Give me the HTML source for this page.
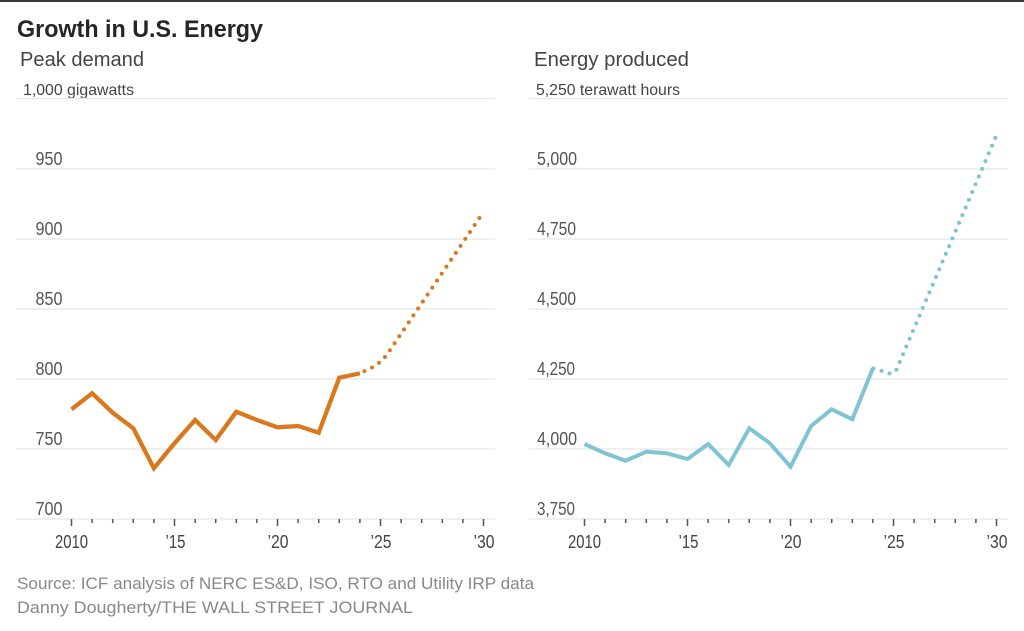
<!DOCTYPE html>
<html>
<head>
<meta charset="utf-8">
<style>
  html, body { margin:0; padding:0; background:#fff; }
  body { width:1024px; height:631px; overflow:hidden; }
  svg { display:block; }
  text { font-family: "Liberation Sans", sans-serif; }
</style>
</head>
<body>
<svg width="1024" height="631" viewBox="0 0 1024 631" xmlns="http://www.w3.org/2000/svg">
  <rect x="0" y="0" width="1024" height="631" fill="#fff"/>
  <rect x="0" y="0" width="1024" height="2" fill="#3a3a3a"/>

  <!-- Title -->
  <text x="17" y="37" font-size="24" font-weight="bold" fill="#262626" textLength="246" lengthAdjust="spacingAndGlyphs">Growth in U.S. Energy</text>

  <!-- ===== LEFT CHART ===== -->
  <text x="20" y="66" font-size="20" fill="#444" textLength="124" lengthAdjust="spacingAndGlyphs">Peak demand</text>
  <text x="23" y="95" font-size="16" fill="#444" textLength="111" lengthAdjust="spacingAndGlyphs">1,000 gigawatts</text>

  <g stroke="#e6e6e6" stroke-width="1.2">
    <line x1="16" y1="98.5" x2="495" y2="98.5"/>
    <line x1="16" y1="169" x2="495" y2="169"/>
    <line x1="16" y1="239" x2="495" y2="239"/>
    <line x1="16" y1="309" x2="495" y2="309"/>
    <line x1="16" y1="379" x2="495" y2="379"/>
    <line x1="16" y1="449" x2="495" y2="449"/>
    <line x1="16" y1="519" x2="495" y2="519"/>
  </g>
  <g font-size="18" fill="#555">
    <text x="35.5" y="165" textLength="27" lengthAdjust="spacingAndGlyphs">950</text>
    <text x="35.5" y="235" textLength="27" lengthAdjust="spacingAndGlyphs">900</text>
    <text x="35.5" y="305" textLength="27" lengthAdjust="spacingAndGlyphs">850</text>
    <text x="35.5" y="375" textLength="27" lengthAdjust="spacingAndGlyphs">800</text>
    <text x="35.5" y="445" textLength="27" lengthAdjust="spacingAndGlyphs">750</text>
    <text x="35.5" y="515" textLength="27" lengthAdjust="spacingAndGlyphs">700</text>
  </g>
  <!-- ticks left -->
  <g stroke="#555" stroke-width="1.5">
    <line x1="71.5" y1="519" x2="71.5" y2="526"/>
    <line x1="92.1" y1="519" x2="92.1" y2="523"/>
    <line x1="112.7" y1="519" x2="112.7" y2="523"/>
    <line x1="133.3" y1="519" x2="133.3" y2="523"/>
    <line x1="153.9" y1="519" x2="153.9" y2="523"/>
    <line x1="174.5" y1="519" x2="174.5" y2="526"/>
    <line x1="195.1" y1="519" x2="195.1" y2="523"/>
    <line x1="215.7" y1="519" x2="215.7" y2="523"/>
    <line x1="236.3" y1="519" x2="236.3" y2="523"/>
    <line x1="256.9" y1="519" x2="256.9" y2="523"/>
    <line x1="277.5" y1="519" x2="277.5" y2="526"/>
    <line x1="298.1" y1="519" x2="298.1" y2="523"/>
    <line x1="318.7" y1="519" x2="318.7" y2="523"/>
    <line x1="339.3" y1="519" x2="339.3" y2="523"/>
    <line x1="359.9" y1="519" x2="359.9" y2="523"/>
    <line x1="380.5" y1="519" x2="380.5" y2="526"/>
    <line x1="401.1" y1="519" x2="401.1" y2="523"/>
    <line x1="421.7" y1="519" x2="421.7" y2="523"/>
    <line x1="442.3" y1="519" x2="442.3" y2="523"/>
    <line x1="462.9" y1="519" x2="462.9" y2="523"/>
    <line x1="483.5" y1="519" x2="483.5" y2="526"/>
  </g>
  <g font-size="18" fill="#444" text-anchor="middle">
    <text x="71.5" y="548" textLength="33" lengthAdjust="spacingAndGlyphs">2010</text>
    <text x="175.5" y="548" textLength="20" lengthAdjust="spacingAndGlyphs">’15</text>
    <text x="278" y="548" textLength="21" lengthAdjust="spacingAndGlyphs">’20</text>
    <text x="381" y="548" textLength="21" lengthAdjust="spacingAndGlyphs">’25</text>
    <text x="484" y="548" textLength="21" lengthAdjust="spacingAndGlyphs">’30</text>
  </g>
  <!-- orange series -->
  <polyline fill="none" stroke="#d9781c" stroke-width="4.3" stroke-linejoin="miter" stroke-linecap="butt"
    points="71.5,409.3 92.1,393.3 112.7,412.7 133.3,428.3 153.9,468.3 174.5,443.3 195.1,420 215.7,440 236.3,411.7 256.9,420 277.5,427.3 298.1,426 318.7,432.7 339.3,377.7 359.9,373.3"/>
  <path fill="none" stroke="#d9781c" stroke-width="4" stroke-linecap="round" stroke-dasharray="0 8.4" stroke-dashoffset="-5"
    d="M359.9,373.3 L372,367.5 Q381,363 388,353 L483.5,212"/>

  <!-- ===== RIGHT CHART ===== -->
  <text x="534" y="66" font-size="20" fill="#444" textLength="155" lengthAdjust="spacingAndGlyphs">Energy produced</text>
  <text x="536" y="95" font-size="16" fill="#444" textLength="144" lengthAdjust="spacingAndGlyphs">5,250 terawatt hours</text>

  <g stroke="#e6e6e6" stroke-width="1.2">
    <line x1="529" y1="98.5" x2="1008" y2="98.5"/>
    <line x1="529" y1="169" x2="1008" y2="169"/>
    <line x1="529" y1="239" x2="1008" y2="239"/>
    <line x1="529" y1="309" x2="1008" y2="309"/>
    <line x1="529" y1="379" x2="1008" y2="379"/>
    <line x1="529" y1="449" x2="1008" y2="449"/>
    <line x1="529" y1="519" x2="1008" y2="519"/>
  </g>
  <g font-size="18" fill="#555">
    <text x="537" y="165" textLength="40" lengthAdjust="spacingAndGlyphs">5,000</text>
    <text x="537" y="235" textLength="39" lengthAdjust="spacingAndGlyphs">4,750</text>
    <text x="537" y="305" textLength="39" lengthAdjust="spacingAndGlyphs">4,500</text>
    <text x="537" y="375" textLength="38" lengthAdjust="spacingAndGlyphs">4,250</text>
    <text x="537" y="445" textLength="40" lengthAdjust="spacingAndGlyphs">4,000</text>
    <text x="537" y="515" textLength="38" lengthAdjust="spacingAndGlyphs">3,750</text>
  </g>
  <g stroke="#555" stroke-width="1.5">
    <line x1="584.5" y1="519" x2="584.5" y2="526"/>
    <line x1="605.1" y1="519" x2="605.1" y2="523"/>
    <line x1="625.7" y1="519" x2="625.7" y2="523"/>
    <line x1="646.3" y1="519" x2="646.3" y2="523"/>
    <line x1="666.9" y1="519" x2="666.9" y2="523"/>
    <line x1="687.5" y1="519" x2="687.5" y2="526"/>
    <line x1="708.1" y1="519" x2="708.1" y2="523"/>
    <line x1="728.7" y1="519" x2="728.7" y2="523"/>
    <line x1="749.3" y1="519" x2="749.3" y2="523"/>
    <line x1="769.9" y1="519" x2="769.9" y2="523"/>
    <line x1="790.5" y1="519" x2="790.5" y2="526"/>
    <line x1="811.1" y1="519" x2="811.1" y2="523"/>
    <line x1="831.7" y1="519" x2="831.7" y2="523"/>
    <line x1="852.3" y1="519" x2="852.3" y2="523"/>
    <line x1="872.9" y1="519" x2="872.9" y2="523"/>
    <line x1="893.5" y1="519" x2="893.5" y2="526"/>
    <line x1="914.1" y1="519" x2="914.1" y2="523"/>
    <line x1="934.7" y1="519" x2="934.7" y2="523"/>
    <line x1="955.3" y1="519" x2="955.3" y2="523"/>
    <line x1="975.9" y1="519" x2="975.9" y2="523"/>
    <line x1="996.5" y1="519" x2="996.5" y2="526"/>
  </g>
  <g font-size="18" fill="#444" text-anchor="middle">
    <text x="584.5" y="548" textLength="33" lengthAdjust="spacingAndGlyphs">2010</text>
    <text x="688.5" y="548" textLength="20" lengthAdjust="spacingAndGlyphs">’15</text>
    <text x="791" y="548" textLength="21" lengthAdjust="spacingAndGlyphs">’20</text>
    <text x="894" y="548" textLength="21" lengthAdjust="spacingAndGlyphs">’25</text>
    <text x="997" y="548" textLength="21" lengthAdjust="spacingAndGlyphs">’30</text>
  </g>
  <!-- blue series -->
  <polyline fill="none" stroke="#80c4d4" stroke-width="4" stroke-linejoin="miter"
    points="584.5,444 605.1,453.3 625.7,460.7 646.3,451.7 666.9,453.3 687.5,459 708.1,444 728.7,465 749.3,428.3 769.9,443.3 790.5,466.7 811.1,426 831.7,409.3 852.3,419.3 872.9,368.3"/>
  <path fill="none" stroke="#80c4d4" stroke-width="4" stroke-linecap="round" stroke-dasharray="0 8.4" stroke-dashoffset="-9"
    d="M872.9,368.3 L890,373.5 Q894,374 896.5,369.5 L997,134"/>

  <!-- Source -->
  <text x="17" y="589" font-size="17" fill="#888" textLength="517" lengthAdjust="spacingAndGlyphs">Source: ICF analysis of NERC ES&amp;D, ISO, RTO and Utility IRP data</text>
  <text x="17" y="613" font-size="17" fill="#888" textLength="396" lengthAdjust="spacingAndGlyphs">Danny Dougherty/THE WALL STREET JOURNAL</text>
</svg>
</body>
</html>
